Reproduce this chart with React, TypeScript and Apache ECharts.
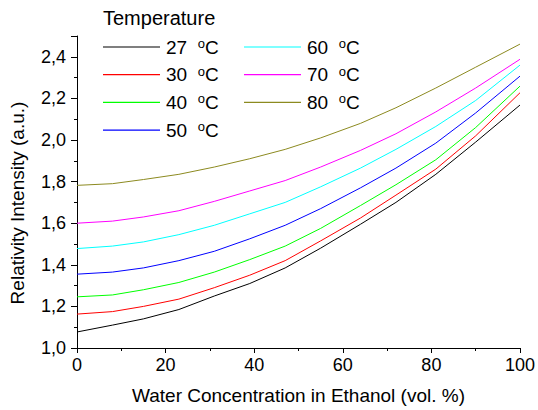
import React, { useEffect, useRef } from "react";
import * as echarts from "echarts";

const waterConc = [0, 8, 15, 23, 31, 39, 47, 55, 64, 72, 81, 90, 100];
const temps = ["27", "30", "40", "50", "60", "70", "80"];
const colors = ["#000000", "#ff0000", "#00ff00", "#0000ff", "#00ffff", "#ff00ff", "#8c8a20"];
const t27 = [1.077, 1.11, 1.14, 1.185, 1.25, 1.31, 1.385, 1.48, 1.595, 1.70, 1.835, 1.99, 2.168];
const t30 = [1.163, 1.175, 1.2, 1.235, 1.29, 1.35, 1.42, 1.515, 1.625, 1.735, 1.86, 2.02, 2.227];
const t40 = [1.246, 1.255, 1.28, 1.315, 1.365, 1.425, 1.49, 1.575, 1.685, 1.785, 1.905, 2.06, 2.259];
const t50 = [1.355, 1.365, 1.385, 1.42, 1.465, 1.525, 1.59, 1.67, 1.77, 1.865, 1.985, 2.13, 2.307];
const t60 = [1.478, 1.49, 1.51, 1.545, 1.59, 1.645, 1.70, 1.775, 1.865, 1.955, 2.065, 2.19, 2.36];
const t70 = [1.60, 1.61, 1.63, 1.66, 1.705, 1.755, 1.805, 1.87, 1.95, 2.03, 2.135, 2.25, 2.388];
const t80 = [1.782, 1.79, 1.81, 1.835, 1.87, 1.91, 1.955, 2.01, 2.08, 2.155, 2.25, 2.35, 2.461];
const allSeries = [t27, t30, t40, t50, t60, t70, t80];
const xTicks = [0, 20, 40, 60, 80, 100];
const yTicks = [1.0, 1.2, 1.4, 1.6, 1.8, 2.0, 2.2, 2.4];

const FONT = "Liberation Sans, Arial, sans-serif";

export default function App() {
  const ref = useRef<HTMLDivElement>(null);
  useEffect(() => {
    const chart = echarts.init(ref.current!, null, { renderer: "svg" });
    const names = temps.map((t) => `${t} °C`);
    const rich = {
      n: { fontSize: 19, fontFamily: FONT, color: "#000", lineHeight: 20 },
      s: { fontSize: 13, fontFamily: FONT, color: "#000", lineHeight: 13, verticalAlign: "top" as const },
    };
    const fmt = (name: string) => {
      const num = name.split(" ")[0];
      return `{n|${num}  }{s|o}{n|C}`;
    };
    const legendItems = names.map((n, i) => ({ name: n, itemStyle: { color: colors[i] } }));
    const legendCommon = {
      orient: "vertical" as const,
      icon: "rect",
      itemWidth: 57,
      itemHeight: 1.2,
      itemGap: 8.2,
      padding: 0,
      formatter: fmt,
      textStyle: { rich, padding: [0, 0, 0, 1] },
      selectedMode: false,
    };
    chart.setOption({
      animation: false,
      backgroundColor: "#fff",
      title: {
        text: "Temperature",
        left: 103,
        top: 8,
        padding: 0,
        textStyle: { fontSize: 20, fontWeight: "normal", fontFamily: FONT, color: "#000" },
      },
      legend: [
        { ...legendCommon, left: 103, top: 37, data: legendItems.slice(0, 4) },
        { ...legendCommon, left: 244, top: 37, data: legendItems.slice(4) },
      ],
      grid: { left: 75, right: 17, top: 36, bottom: 62 },
      xAxis: {
        type: "value",
        min: xTicks[0],
        max: xTicks[xTicks.length - 1],
        interval: 20,
        name: "Water Concentration in Ethanol (vol. %)",
        nameLocation: "middle",
        nameGap: 38,
        nameTextStyle: { fontSize: 19, fontFamily: FONT, color: "#000" },
        axisLine: { show: true, lineStyle: { color: "#000", width: 1 } },
        axisTick: { show: true, length: 5, lineStyle: { color: "#000" } },
        minorTick: { show: true, splitNumber: 2, length: 3, lineStyle: { color: "#000" } },
        splitLine: { show: false },
        axisLabel: { fontSize: 18, fontFamily: FONT, color: "#000", margin: 8 },
      },
      yAxis: {
        type: "value",
        min: 1.0,
        max: 2.5,
        interval: 0.2,
        name: "Relativity Intensity (a.u.)",
        nameLocation: "middle",
        nameGap: 50,
        nameTextStyle: { fontSize: 19, fontFamily: FONT, color: "#000", padding: [0, 22, 0, 0] },
        axisLine: { show: true, lineStyle: { color: "#000", width: 1 } },
        axisTick: { show: true, length: 6, lineStyle: { color: "#000" } },
        minorTick: { show: true, splitNumber: 2, length: 3, lineStyle: { color: "#000" } },
        splitLine: { show: false },
        axisLabel: {
          fontSize: 18,
          fontFamily: FONT,
          color: "#000",
          margin: 11,
          formatter: (v: number) => (yTicks.some((t) => Math.abs(t - v) < 1e-6) ? v.toFixed(1).replace(".", ",") : ""),
        },
      },
      series: allSeries.map((vals, i) => ({
        name: names[i],
        type: "line",
        symbol: "none",
        data: waterConc.map((x, j) => [x, vals[j]]),
        smooth: false,
        lineStyle: { color: colors[i], width: 1 },
        itemStyle: { color: colors[i] },
      })),
    });
    return () => chart.dispose();
  }, []);
  return (
    <div
      ref={ref}
      style={{ position: "fixed", left: 0, top: 0, width: 538, height: 410 }}
    />
  );
}
